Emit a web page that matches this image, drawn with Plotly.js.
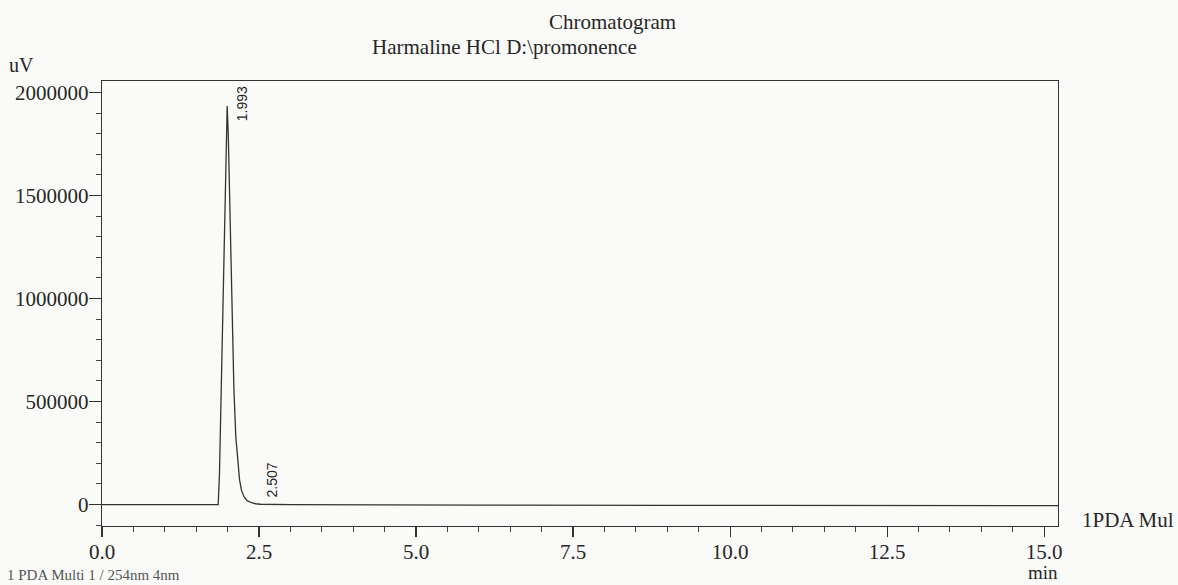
<!DOCTYPE html>
<html>
<head>
<meta charset="utf-8">
<script src="https://cdn.plot.ly/plotly-3.0.1.min.js"></script>
<style>
html,body{margin:0;padding:0;background:#fafaf8;}
#chart{width:1178px;height:585px;}
</style>
</head>
<body>
<div id="chart"></div>
<script>
// Chromatogram trace: retention time (min) and detector signal (uV)
const timeMin = [0, 0.8, 1.6, 1.85, 1.87, 1.90, 1.93, 1.96, 1.993, 2.01, 2.04, 2.07, 2.10, 2.13, 2.16, 2.19, 2.22, 2.26, 2.31, 2.38, 2.45, 2.52, 3.0, 4.0, 6.0, 9.0, 12.0, 15.22];
const signalUV = [0, -1000, 0, 0, 150000, 560000, 1000000, 1450000, 1935000, 1800000, 1350000, 900000, 560000, 330000, 200000, 120000, 70000, 38000, 19000, 9000, 4000, 1500, 0, -2000, -3000, -4000, -5000, -5000];

// Peak labels
const peakTimes = [1.993, 2.507];
const peakLabelY = [1944000, 119000];
const peakLabels = ['1.993', '2.507'];

const xTickVals = [0, 2.5, 5.0, 7.5, 10.0, 12.5, 15.0];
const yTickVals = [0, 500000, 1000000, 1500000, 2000000];

const serif = 'Liberation Serif, Times New Roman, serif';
const ink = '#262626';

const trace = {
  x: timeMin,
  y: signalUV,
  type: 'scatter',
  mode: 'lines',
  line: {color: '#333', width: 1.3},
  hoverinfo: 'x+y'
};

const annotations = [
  {text: 'Chromatogram', xref: 'paper', yref: 'paper', x: 0.5345, y: 1.1326, xanchor: 'center', yanchor: 'middle', showarrow: false, font: {family: serif, size: 21, color: ink}},
  {text: 'Harmaline HCl D:\\promonence', xref: 'paper', yref: 'paper', x: 0.4215, y: 1.0764, xanchor: 'center', yanchor: 'middle', showarrow: false, font: {family: serif, size: 21, color: ink}},
  {text: 'uV', xref: 'paper', yref: 'paper', x: -0.0837, y: 1.036, xanchor: 'center', yanchor: 'middle', showarrow: false, font: {family: serif, size: 20, color: ink}},
  {text: 'min', xref: 'paper', yref: 'paper', x: 0.984, y: -0.1326, xanchor: 'center', yanchor: 'bottom', showarrow: false, font: {family: serif, size: 19, color: ink}},
  {text: '1PDA Mul', xref: 'paper', yref: 'paper', x: 1.023, y: 0.0135, xanchor: 'left', yanchor: 'middle', showarrow: false, font: {family: serif, size: 21, color: ink}},
  {text: '1 PDA Multi 1 / 254nm 4nm', xref: 'paper', yref: 'paper', x: -0.1015, y: -0.1326, xanchor: 'left', yanchor: 'bottom', showarrow: false, font: {family: serif, size: 15, color: '#555'}}
];
peakTimes.forEach((t, i) => {
  annotations.push({
    text: peakLabels[i], x: t, y: peakLabelY[i], xref: 'x', yref: 'y',
    xshift: i === 0 ? 15 : 13, textangle: -90, xanchor: 'center', yanchor: 'middle',
    showarrow: false, font: {family: 'Liberation Sans Narrow, Liberation Sans, Arial, sans-serif', size: 14, color: ink}
  });
});

const layout = {
  width: 1178,
  height: 585,
  margin: {l: 102, r: 120, t: 81, b: 59, pad: 0},
  paper_bgcolor: '#fafaf8',
  plot_bgcolor: '#fafaf8',
  showlegend: false,
  font: {family: serif, size: 21, color: ink},
  xaxis: {
    range: [0, 15.22],
    tickvals: xTickVals,
    ticktext: xTickVals.map(v => v.toFixed(1)),
    ticks: 'outside', ticklen: 10, tickwidth: 1.2, tickcolor: '#333',
    minor: {dtick: 0.5, tick0: 0, ticks: 'outside', ticklen: 5, tickwidth: 1, tickcolor: '#444'},
    showline: true, linecolor: '#333', linewidth: 1.3, mirror: true,
    showgrid: false, zeroline: false,
    ticklabelstandoff: -4,
    tickfont: {family: serif, size: 21, color: ink}
  },
  yaxis: {
    range: [-104000, 2056000],
    tickvals: yTickVals,
    ticktext: yTickVals.map(v => String(v)),
    ticks: 'outside', ticklen: 12, tickwidth: 1.2, tickcolor: '#333',
    minor: {dtick: 100000, tick0: 0, ticks: 'outside', ticklen: 5, tickwidth: 1, tickcolor: '#444'},
    showline: true, linecolor: '#333', linewidth: 1.3, mirror: true,
    showgrid: false, zeroline: false,
    ticklabelstandoff: -4,
    tickfont: {family: serif, size: 21, color: ink}
  },
  annotations: annotations
};

Plotly.newPlot('chart', [trace], layout, {displayModeBar: false, staticPlot: true});
</script>
</body>
</html>
